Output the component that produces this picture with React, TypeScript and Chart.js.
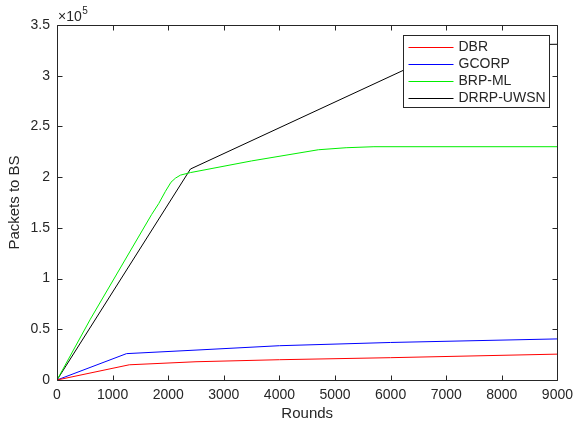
import React, { useEffect, useRef } from "react";
import { Chart, registerables } from "chart.js";

Chart.register(...registerables);

const seriesNames = ["DBR", "GCORP", "BRP-ML", "DRRP-UWSN"];
const seriesColors = ["#ff0000", "#0000ff", "#00ee00", "#000000"];

const dbrRounds = [0, 1300, 2500, 4000, 6000, 9000];
const dbrPackets = [0, 15000, 18000, 20000, 22000, 25500];

const gcorpRounds = [0, 1250, 2500, 4000, 6000, 9000];
const gcorpPackets = [0, 26000, 29500, 33800, 37000, 40500];

const brpRounds = [0, 600, 1700, 1830, 1950, 2050, 2130, 2220, 2400, 3500, 4700, 5200, 5700, 9000];
const brpPackets = [0, 60000, 163000, 174000, 186000, 195000, 199000, 202000, 204500, 216000, 227000, 229000, 230000, 230000];

const drrpRounds = [0, 2400, 7200, 9000];
const drrpPackets = [0, 208000, 330000, 331000];

const xTickStep = 1000;
const yTickStep = 50000;
const xMax = 9000;
const yMax = 350000;
const yExponentBase = "\u00d710";
const yExponent = "5";
const xTitle = "Rounds";
const yTitle = "Packets to BS";

const AXIS_COLOR = "#262626";
const FONT = "'Liberation Sans', Arial, sans-serif";

function toPoints(xs: number[], ys: number[]) {
  return xs.map((x, i) => ({ x, y: ys[i] }));
}

const boxPlugin = {
  id: "matlabBox",
  afterDatasetsDraw(chart: any) {
    const { ctx } = chart;
    const left = 403.5;
    const top = 35.5;
    const w = 146;
    const h = 72;
    ctx.save();
    ctx.fillStyle = "#ffffff";
    ctx.fillRect(left, top, w, h);
    ctx.strokeStyle = AXIS_COLOR;
    ctx.lineWidth = 1;
    ctx.strokeRect(left, top, w, h);
    ctx.font = "14px " + FONT;
    ctx.textBaseline = "middle";
    ctx.textAlign = "left";
    chart.data.datasets.forEach((ds: any, i: number) => {
      const cy = top + 11.5 + i * 16.9;
      const yy = Math.round(cy) + 0.5;
      ctx.beginPath();
      ctx.strokeStyle = seriesColors[i];
      ctx.lineWidth = 1;
      ctx.moveTo(left + 5, yy);
      ctx.lineTo(left + 50, yy);
      ctx.stroke();
      ctx.fillStyle = AXIS_COLOR;
      ctx.fillText(ds.label, left + 55, cy + 0.5);
    });
    ctx.restore();
  },
  afterDraw(chart: any) {
    const { ctx, chartArea, scales } = chart;
    const { left, right, top, bottom } = chartArea;
    const xs = scales.x;
    const ys = scales.y;
    ctx.save();
    ctx.strokeStyle = AXIS_COLOR;
    ctx.lineWidth = 1;
    const L = Math.round(left) + 0.5;
    const R = Math.round(right) + 0.5;
    const T = Math.round(top) + 0.5;
    const B = Math.round(bottom) + 0.5;
    ctx.beginPath();
    ctx.rect(L, T, R - L, B - T);
    ctx.stroke();
    const tl = 5;
    ctx.beginPath();
    xs.ticks.forEach((t: any) => {
      const px = Math.round(xs.getPixelForValue(t.value)) + 0.5;
      ctx.moveTo(px, B);
      ctx.lineTo(px, B - tl);
      ctx.moveTo(px, T);
      ctx.lineTo(px, T + tl);
    });
    ys.ticks.forEach((t: any) => {
      const py = Math.round(ys.getPixelForValue(t.value)) + 0.5;
      ctx.moveTo(L, py);
      ctx.lineTo(L + tl, py);
      ctx.moveTo(R, py);
      ctx.lineTo(R - tl, py);
    });
    ctx.stroke();
    ctx.fillStyle = AXIS_COLOR;
    ctx.textBaseline = "alphabetic";
    ctx.textAlign = "left";
    ctx.font = "14px " + FONT;
    ctx.fillText(yExponentBase, left + 1, top - 4);
    const wBase = ctx.measureText(yExponentBase).width;
    ctx.font = "10px " + FONT;
    ctx.fillText(yExponent, left + 1 + wBase + 0.5, top - 11);
    ctx.restore();
  },
};

export default function App() {
  const canvasRef = useRef<HTMLCanvasElement | null>(null);

  useEffect(() => {
    if (!canvasRef.current) return;
    const seriesData = [
      toPoints(dbrRounds, dbrPackets),
      toPoints(gcorpRounds, gcorpPackets),
      toPoints(brpRounds, brpPackets),
      toPoints(drrpRounds, drrpPackets),
    ];
    const chart = new Chart(canvasRef.current, {
      type: "line",
      data: {
        datasets: seriesNames.map((name, i) => ({
          label: name,
          data: seriesData[i],
          borderColor: seriesColors[i],
          backgroundColor: seriesColors[i],
          borderWidth: 1,
          pointRadius: 0,
          tension: 0,
          fill: false,
        })),
      },
      options: {
        responsive: false,
        animation: false,
        devicePixelRatio: 1,
        layout: { padding: { top: 25, right: 17, left: 0, bottom: 0 } },
        plugins: {
          legend: { display: false },
          tooltip: { enabled: false },
        },
        scales: {
          x: {
            type: "linear",
            min: 0,
            max: xMax,
            afterFit: (s: any) => {
              s.height = 43;
            },
            ticks: {
              stepSize: xTickStep,
              color: AXIS_COLOR,
              font: { family: FONT, size: 14 },
              padding: 7,
              maxRotation: 0,
              autoSkip: false,
              callback: (v: any) => String(v),
            },
            grid: { display: false, drawTicks: false },
            border: { display: false },
            title: {
              display: true,
              text: xTitle,
              color: AXIS_COLOR,
              font: { family: FONT, size: 15 },
              padding: { top: 0, bottom: 0 },
            },
          },
          y: {
            type: "linear",
            min: 0,
            max: yMax,
            afterFit: (s: any) => {
              s.width = 57;
            },
            ticks: {
              stepSize: yTickStep,
              color: AXIS_COLOR,
              font: { family: FONT, size: 14 },
              padding: 7,
              callback: (v: any) => String(Number(v) / 1e5),
            },
            grid: { display: false, drawTicks: false },
            border: { display: false },
            title: {
              display: true,
              text: yTitle,
              color: AXIS_COLOR,
              font: { family: FONT, size: 15 },
              padding: { top: 6, bottom: 0 },
            },
          },
        },
      },
      plugins: [boxPlugin],
    });
    return () => chart.destroy();
  }, []);

  return (
    <div style={{ position: "fixed", left: 0, top: 0, width: 580, height: 423, background: "#ffffff" }}>
      <canvas ref={canvasRef} width={580} height={423} />
    </div>
  );
}
